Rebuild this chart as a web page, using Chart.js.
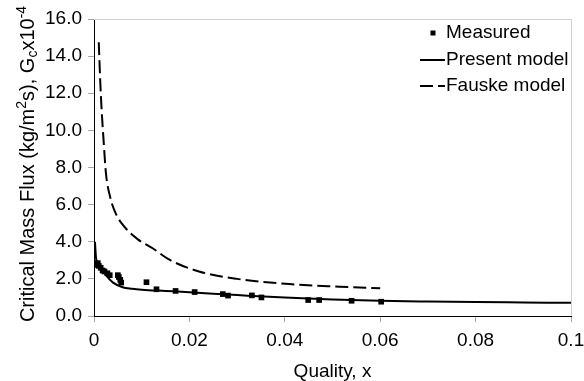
<!DOCTYPE html>
<html>
<head>
<meta charset="utf-8">
<script src="https://cdn.jsdelivr.net/npm/chart.js@4"></script>
<style>
  html, body { margin: 0; padding: 0; background: #fff; }
  canvas { display: block; }
</style>
</head>
<body>
<canvas id="c" width="584" height="381"></canvas>
<script>
// ---- Data ----
const measuredX = [0.0002, 0.0008, 0.0010, 0.0014, 0.0018, 0.0022, 0.0028, 0.0033, 0.0050, 0.0052, 0.0055, 0.0057, 0.0110, 0.0131, 0.0171, 0.0211, 0.0270, 0.0281, 0.0331, 0.0351, 0.0449, 0.0472, 0.0540, 0.0602];
const measuredY = [2.75, 2.85, 2.70, 2.60, 2.45, 2.40, 2.30, 2.20, 2.20, 2.10, 1.95, 1.80, 1.82, 1.44, 1.35, 1.29, 1.18, 1.10, 1.11, 1.00, 0.86, 0.86, 0.82, 0.77];

const presentX = [0.0002, 0.0004, 0.0006, 0.0010, 0.0018, 0.0025, 0.0040, 0.0060, 0.0080, 0.0100, 0.0150, 0.0200, 0.0300, 0.0400, 0.0500, 0.0600, 0.0700, 0.0800, 0.0900, 0.1000];
const presentY = [4.00, 3.20, 2.90, 2.70, 2.48, 2.20, 1.80, 1.55, 1.47, 1.42, 1.35, 1.28, 1.13, 0.99, 0.89, 0.82, 0.78, 0.75, 0.73, 0.71];

const fauskeX = [0.0010, 0.0013, 0.0016, 0.0020, 0.0025, 0.0034, 0.0046, 0.0064, 0.0092, 0.0123, 0.0159, 0.0220, 0.0300, 0.0410, 0.0515, 0.0600];
const fauskeY = [14.75, 12.70, 11.10, 9.50, 7.70, 6.40, 5.50, 4.80, 4.13, 3.65, 3.02, 2.40, 2.00, 1.72, 1.58, 1.49];

const xTickLabels = ['0', '0.02', '0.04', '0.06', '0.08', '0.1'];
const yTickLabels = ['0.0', '2.0', '4.0', '6.0', '8.0', '10.0', '12.0', '14.0', '16.0'];
const seriesLabels = ['Measured', 'Present model', 'Fauske model'];
const xTitle = 'Quality, x';

const FONT = '"Liberation Sans", Arial, sans-serif';
const toPts = (xs, ys) => xs.map((x, i) => ({ x: x, y: ys[i] }));

const decorPlugin = {
  id: 'decor',
  afterDraw(chart) {
    const ctx = chart.ctx;
    const a = chart.chartArea;
    ctx.save();
    ctx.strokeStyle = '#d0d0d0';
    ctx.lineWidth = 1;
    ctx.beginPath();
    ctx.moveTo(a.left, a.top + 0.5);
    ctx.lineTo(a.right + 0.5, a.top + 0.5);
    ctx.lineTo(a.right + 0.5, a.bottom);
    ctx.stroke();

    const parts = [
      { t: 'Critical Mass Flux (kg/m', s: 0 },
      { t: '2', s: 1 },
      { t: 's), G', s: 0 },
      { t: 'c', s: -1 },
      { t: 'x10', s: 0 },
      { t: '-4', s: 1 }
    ];
    const big = '20px ' + FONT, small = '14px ' + FONT;
    let total = 0;
    parts.forEach(p => { ctx.font = p.s ? small : big; p.w = ctx.measureText(p.t).width; total += p.w; });
    ctx.translate(28, 164);
    ctx.rotate(-Math.PI / 2);
    ctx.fillStyle = '#000';
    ctx.textBaseline = 'middle';
    ctx.textAlign = 'left';
    let cx = -total / 2;
    parts.forEach(p => {
      ctx.font = p.s ? small : big;
      const dy = p.s === 1 ? -6 : (p.s === -1 ? 5 : 0);
      ctx.fillText(p.t, cx, dy);
      cx += p.w;
    });
    ctx.restore();

    ctx.save();
    ctx.font = '19px ' + FONT;
    ctx.fillStyle = '#000';
    ctx.textBaseline = 'middle';
    ctx.textAlign = 'left';
    const tx = 446, ys = [33, 60, 86];
    const ds = chart.data.datasets;
    ctx.fillRect(430.5, ys[0] - 2.5, 5, 5);
    ctx.fillText(ds[0].label, tx, ys[0]);
    ctx.strokeStyle = '#000';
    ctx.lineWidth = 2;
    ctx.beginPath(); ctx.moveTo(420, ys[1]); ctx.lineTo(445, ys[1]); ctx.stroke();
    ctx.fillText(ds[1].label, tx, ys[1]);
    ctx.setLineDash([13, 5]);
    ctx.beginPath(); ctx.moveTo(420, ys[2]); ctx.lineTo(445, ys[2]); ctx.stroke();
    ctx.setLineDash([]);
    ctx.fillText(ds[2].label, tx, ys[2]);
    ctx.restore();
  }
};

new Chart(document.getElementById('c'), {
  type: 'scatter',
  data: {
    datasets: [
      {
        label: seriesLabels[0],
        data: toPts(measuredX, measuredY),
        pointStyle: 'rect',
        pointRadius: 4,
        pointBorderWidth: 0,
        backgroundColor: '#000',
        borderColor: '#000',
        showLine: false,
        order: 0
      },
      {
        label: seriesLabels[1],
        data: toPts(presentX, presentY),
        showLine: true,
        borderColor: '#000',
        borderWidth: 2,
        pointRadius: 0,
        cubicInterpolationMode: 'monotone',
        order: 1
      },
      {
        label: seriesLabels[2],
        data: toPts(fauskeX, fauskeY),
        showLine: true,
        borderColor: '#000',
        borderWidth: 2,
        borderDash: [13, 5],
        pointRadius: 0,
        cubicInterpolationMode: 'monotone',
        order: 2
      }
    ]
  },
  options: {
    responsive: false,
    animation: false,
    devicePixelRatio: 1,
    layout: { padding: { left: 0, right: 0, top: 19, bottom: 0 } },
    plugins: { legend: { display: false }, tooltip: { enabled: false } },
    scales: {
      x: {
        type: 'linear',
        min: 0, max: 0.1,
        afterFit(s) { s.height = 65; s.paddingRight = 13; s.paddingLeft = 0; },
        afterBuildTicks(s) { s.ticks = xTickLabels.map(v => ({ value: parseFloat(v) })); },
        ticks: {
          callback: (v, i) => xTickLabels[i],
          font: { family: FONT, size: 19 },
          color: '#000',
          padding: 7,
          maxRotation: 0
        },
        grid: { drawOnChartArea: false, drawTicks: true, tickLength: 6, color: '#a6a6a6' },
        border: { display: true, color: '#000', width: 1 },
        title: {
          display: true, text: xTitle,
          font: { family: FONT, size: 19, lineHeight: 1 },
          color: '#000',
          padding: { top: 0, bottom: 0 }
        }
      },
      y: {
        type: 'linear',
        min: 0, max: 16,
        afterFit(s) { s.width = 94; s.paddingTop = 0; s.paddingBottom = 0; },
        afterBuildTicks(s) { s.ticks = yTickLabels.map(v => ({ value: parseFloat(v) })); },
        ticks: {
          callback: (v, i) => yTickLabels[i],
          font: { family: FONT, size: 19 },
          color: '#000',
          padding: 6
        },
        grid: { drawOnChartArea: false, drawTicks: true, tickLength: 6, color: '#a6a6a6' },
        border: { display: true, color: '#000', width: 1 }
      }
    }
  },
  plugins: [decorPlugin]
});
</script>
</body>
</html>
